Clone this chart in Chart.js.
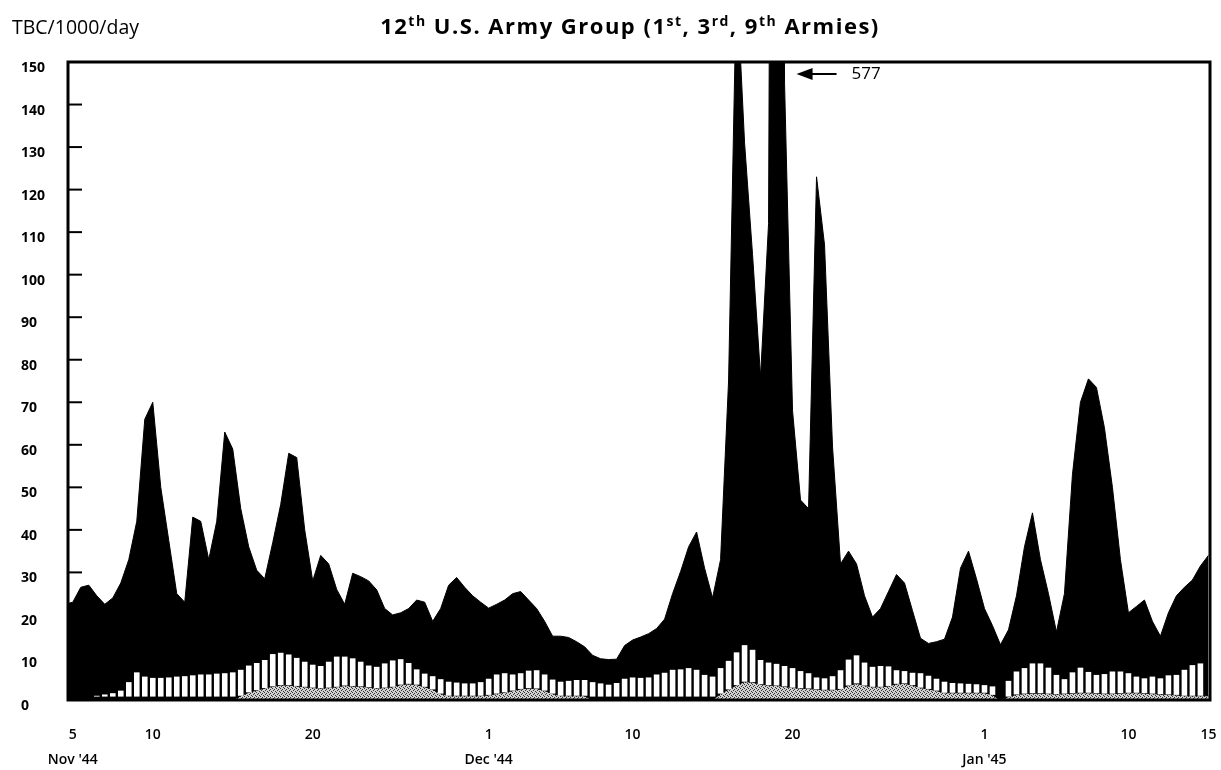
<!DOCTYPE html>
<html>
<head>
<meta charset="utf-8">
<title>12th U.S. Army Group</title>
<script src="https://cdn.jsdelivr.net/npm/chart.js@4.4.1/dist/chart.umd.min.js"></script>
<style>
  html, body { margin: 0; padding: 0; background: #fff; }
  #wrap { width: 1221px; height: 770px; }
</style>
</head>
<body>
<div id="wrap"><canvas id="tbcChart" width="1221" height="770"></canvas></div>
<script>
// half-day steps, day 0 = 5 Nov '44 (first point sits just left of the axis)
const days = Array.from({ length: 144 }, (_, k) => (k - 1) / 2);

// top of the black area (all TBC, per 1000 per day)
const totalRate = [
  22.5, 23, 26.5, 27, 24.5, 22.5, 24, 27.5, 33, 42,
  66, 70, 50, 37.5, 25, 23, 43, 42, 33, 42,
  63, 59, 45, 36, 30.5, 28.5, 37, 46, 58, 57,
  40, 28, 34, 32, 26, 22.5, 29.8, 29, 28, 25.9,
  21.5, 20, 20.5, 21.5, 23.5, 23, 18.5, 21.5, 27, 28.8,
  26.5, 24.5, 23, 21.6, 22.5, 23.5, 25, 25.5, 23.5, 21.5,
  18.5, 15, 15, 14.7, 13.7, 12.5, 10.5, 9.7, 9.5, 9.6,
  12.8, 14.1, 14.8, 15.6, 16.8, 19, 25, 30.2, 36, 39.5,
  31, 24, 33, 75, 170, 131, 104.7, 76, 112, 577,
  145, 68, 47, 45, 123, 107, 59.5, 32, 35, 32,
  24.5, 19.5, 21.5, 25.5, 29.5, 27.5, 21, 14.5, 13.3, 13.7,
  14.3, 19.5, 31, 35, 28.5, 21.5, 17.5, 13, 16.5, 24.5,
  36, 44, 33, 25, 16, 25, 53, 70, 75.5, 73.5,
  64, 50, 33, 20.5, 22, 23.5, 18.5, 15, 20.5, 24.5,
  26.5, 28.2, 31.5, 34
];

// top of the striped band
const stripeTop = [
  null, null, null, null, 1.0, 1.3, 1.6, 2.2, 4.2, 6.5,
  5.5, 5.2, 5.2, 5.3, 5.5, 5.6, 5.8, 6, 6, 6.2,
  6.3, 6.5, 7.1, 8.1, 8.7, 9.4, 10.8, 11.1, 10.7, 9.9,
  9, 8.3, 8, 9, 10.2, 10.2, 9.8, 9, 8.1, 7.8,
  8.6, 9.3, 9.6, 8.7, 7.2, 6.2, 5.6, 4.9, 4.3, 4.1,
  3.9, 3.9, 4.2, 5, 6, 6.3, 6, 6.3, 6.9, 7,
  6, 4.8, 4.3, 4.5, 4.7, 4.7, 4.2, 3.9, 3.6, 4,
  5, 5.3, 5.2, 5.3, 6, 6.4, 7.1, 7.2, 7.5, 7.1,
  5.9, 5.5, 7.5, 9.2, 11.2, 12.9, 11.8, 9.4, 8.8, 8.5,
  8, 7.5, 6.8, 6.3, 5.3, 5.1, 5.6, 7, 9.5, 10.5,
  8.8, 7.8, 8, 7.9, 7, 6.8, 6.4, 6.3, 5.7, 5,
  4.3, 4, 3.9, 3.8, 3.7, 3.5, 3.2, null, 4.5, 6.7,
  7.5, 8.6, 8.6, 7.6, 5.9, 4.9, 6.5, 7.6, 6.6, 5.9,
  6.1, 6.7, 6.7, 6.3, 5.5, 5.1, 5.5, 5.1, 5.8, 5.9,
  7.1, 8.2, 8.6, null
];

// top of the stippled band at the bottom
const grayTop = [
  0, 0, 0, 0, 0, 0, 0, 0, 0, 0,
  0, 0, 0, 0, 0, 0, 0, 0, 0, 0,
  0, 0, 1.0, 1.8, 2.3, 2.8, 3.2, 3.5, 3.5, 3.3,
  3.1, 2.9, 2.8, 2.9, 3.1, 3.4, 3.3, 3.2, 3.0, 2.8,
  2.9, 3.1, 3.6, 3.8, 3.6, 3.1, 2.5, 1.5, 1, 1,
  1, 1, 1, 1.2, 1.5, 1.8, 2.2, 2.6, 2.8, 2.7,
  2.2, 1.5, 1, 1, 1, 1, 0, 0, 0, 0,
  0, 0, 0, 0, 0, 0, 0, 0, 0, 0,
  0, 0, 1.5, 2.5, 3.5, 4.3, 4.2, 3.7, 3.5, 3.4,
  3.2, 2.9, 2.8, 2.7, 2.5, 2.4, 2.4, 2.6, 3.4, 3.9,
  3.4, 3.1, 3.1, 3.3, 3.8, 3.9, 3.5, 2.9, 2.6, 2.2,
  1.7, 1.7, 1.7, 1.7, 1.7, 1.7, 1.2, 0, 0.8, 1.3,
  1.5, 1.6, 1.6, 1.5, 1.4, 1.5, 1.6, 1.7, 1.7, 1.6,
  1.5, 1.5, 1.6, 1.7, 1.7, 1.6, 1.5, 1.4, 1.3, 1.2,
  1.0, 1.0, 1.0, 1.0
];

// x axis labels
const tickDays = [0, 5, 15, 26, 35, 45, 57, 66, 71];
const dayLabels = ['5', '10', '20', '1', '10', '20', '1', '10', '15'];
const monthLabels = ["Nov '44", '', '', "Dec '44", '', '', "Jan '45", '', ''];

const FONT = '"Open Sans", "DejaVu Sans", sans-serif';

function stipple() {
  const c = document.createElement('canvas');
  c.width = 4; c.height = 4;
  const g = c.getContext('2d');
  g.fillStyle = '#d0d0d0';
  g.fillRect(0, 0, 4, 4);
  g.fillStyle = '#333';
  [[0, 0], [2, 1], [1, 2], [3, 3]].forEach(p => g.fillRect(p[0], p[1], 1, 1));
  return g.createPattern(c, 'repeat');
}

const pts = arr => days.map((d, k) => ({ x: d, y: arr[k] }));

const stripeBars = days
  .map((d, k) => stripeTop[k] == null ? null : { x: d, y: [Math.max(grayTop[k], 0.8), stripeTop[k]] })
  .filter(Boolean);

// frame, inward ticks and the off-scale note
const framePlugin = {
  id: 'frame',
  afterDatasetsDraw(chart) {
    const { ctx, chartArea: a, scales: { x, y } } = chart;
    ctx.save();
    ctx.strokeStyle = '#000';
    ctx.lineWidth = 2;
    y.ticks.forEach(t => {
      const py = y.getPixelForValue(t.value);
      ctx.beginPath();
      ctx.moveTo(a.left, py);
      ctx.lineTo(a.left + 14, py);
      ctx.stroke();
    });
    ctx.lineWidth = 3;
    ctx.strokeRect(a.left, a.top, a.right - a.left, a.bottom - a.top);

    const peak = Math.max(...totalRate);
    const px = x.getPixelForValue(days[totalRate.indexOf(peak)]) + 20;
    const py = a.top + 12;
    ctx.lineWidth = 2;
    ctx.beginPath();
    ctx.moveTo(px + 10, py);
    ctx.lineTo(px + 40, py);
    ctx.stroke();
    ctx.fillStyle = '#000';
    ctx.beginPath();
    ctx.moveTo(px, py);
    ctx.lineTo(px + 16, py - 6);
    ctx.lineTo(px + 16, py + 6);
    ctx.closePath();
    ctx.fill();
    ctx.font = '17px ' + FONT;
    ctx.textBaseline = 'middle';
    ctx.textAlign = 'left';
    ctx.fillText(String(peak), px + 55, py);
    ctx.restore();
  },
  afterDraw(chart) {
    const ctx = chart.ctx;
    ctx.save();
    ctx.fillStyle = '#000';
    ctx.textBaseline = 'alphabetic';
    ctx.textAlign = 'left';
    ctx.font = '19.5px ' + FONT;
    ctx.fillText('TBC/1000/day', 12, 34);

    const parts = [['12', 0], ['th', 1], [' U.S. Army Group (1', 0], ['st', 1], [', 3', 0],
                   ['rd', 1], [', 9', 0], ['th', 1], [' Armies)', 0]];
    const big = '700 22px ' + FONT, small = '700 14px ' + FONT;
    ctx.letterSpacing = '1.5px';
    let w = 0;
    parts.forEach(p => { ctx.font = p[1] ? small : big; w += ctx.measureText(p[0]).width; });
    let tx = 630 - w / 2;
    parts.forEach(p => {
      ctx.font = p[1] ? small : big;
      ctx.fillText(p[0], tx, p[1] ? 26 : 34);
      tx += ctx.measureText(p[0]).width;
    });
    ctx.restore();
  }
};

const ctx = document.getElementById('tbcChart').getContext('2d');
const tbcChart = new Chart(ctx, {
  type: 'bar',
  data: {
    datasets: [
      {
        type: 'bar',
        label: 'stripe',
        data: stripeBars,
        backgroundColor: '#fff',
        borderWidth: 0,
        barPercentage: 0.7,
        categoryPercentage: 1,
        order: 1
      },
      {
        type: 'line',
        label: 'stipple',
        data: pts(grayTop),
        fill: 'origin',
        backgroundColor: stipple(),
        borderColor: '#000',
        borderWidth: 1,
        pointRadius: 0,
        order: 2
      },
      {
        type: 'line',
        label: 'total',
        data: pts(totalRate),
        fill: 'origin',
        backgroundColor: '#000',
        borderColor: '#000',
        borderWidth: 1,
        pointRadius: 0,
        clip: 0,
        order: 3
      }
    ]
  },
  options: {
    responsive: false,
    animation: false,
    layout: { padding: { left: 21, top: 62, right: 11, bottom: 0 } },
    plugins: { legend: { display: false }, tooltip: { enabled: false }, title: { display: false } },
    scales: {
      x: {
        type: 'linear',
        min: -0.3,
        max: 71.1,
        offset: false,
        grid: { display: false, drawTicks: false },
        border: { display: false },
        afterBuildTicks: s => { s.ticks = tickDays.map(v => ({ value: v })); },
        afterFit: s => { s.height = 70; s.paddingLeft = 0; s.paddingRight = 0; },
        ticks: {
          autoSkip: false,
          maxRotation: 0,
          padding: 22,
          color: '#000',
          font: { family: FONT, size: 14, weight: '600', lineHeight: 1.8 },
          callback: (value, index) => [dayLabels[index], monthLabels[index]]
        }
      },
      y: {
        min: 0,
        max: 150,
        grid: { display: false, drawTicks: false },
        border: { display: false },
        afterFit: s => { s.width = 47; },
        ticks: {
          stepSize: 10,
          crossAlign: 'far',
          labelOffset: 6,
          color: '#000',
          font: { family: FONT, size: 14, weight: '700' }
        }
      }
    }
  },
  plugins: [framePlugin]
});
</script>
</body>
</html>
